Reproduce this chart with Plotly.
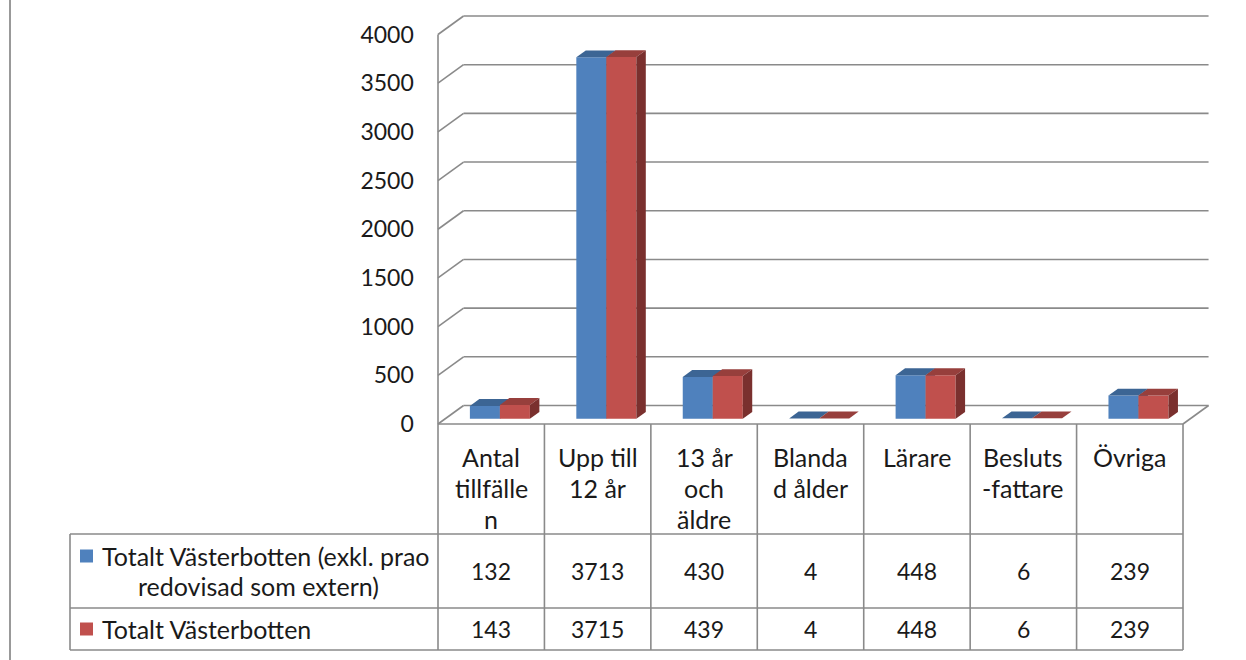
import plotly.graph_objects as go

# ---------------- data ----------------
categories = ["Antal<br>tillfälle<br>n", "Upp till<br>12 år", "13 år<br>och<br>äldre",
              "Blanda<br>d ålder", "Lärare", "Besluts<br>-fattare", "Övriga"]
series_names = ["Totalt Västerbotten (exkl. prao<br>redovisad som extern)", "Totalt Västerbotten"]
values_excl = [132, 3713, 430, 4, 448, 6, 239]
values_total = [143, 3715, 439, 4, 448, 6, 239]
y_ticks = [0, 500, 1000, 1500, 2000, 2500, 3000, 3500, 4000]

series_values = [values_excl, values_total]
front_colors = ["#4F81BD", "#C0504D"]
top_colors = ["#3C6594", "#973F3C"]
side_colors = ["#2F5079", "#7A302E"]

# ---------------- layout constants ----------------
W_FIG, H_FIG = 1246, 660
PX_LEFT = 438.0          # front-left edge of the plot (pixels)
PX_COL = 106.43          # width of a category on the front plane
PX_BOTTOM = 424.0        # pixel row of value 0 (front)
PX_PER_UNIT = 389.5 / 4000.0
YMAX = 4000
DX = 0.24                # depth offset, category units
DY = 190.0               # depth offset, value units
PADX = 0.03
PADY = 25.0
BAR_W = 0.282
D0X = 0.34               # depth position of bar front face (x shift)
D0Y = 0.28               # depth position of bar front face (y shift)
BD = 0.37                # bar depth
GRID = "#8A8A8A"
FONT = "Lato"
FS_NUM = 23
FS_TXT = 25

x_rng = [-0.5 - PADX, len(categories) - 0.5 + DX + PADX]
y_rng = [-PADY, YMAX + DY + PADY]


def xp(px):
    return px / W_FIG


def yp(py):
    return 1 - py / H_FIG


def cat_px(c):
    return PX_LEFT + (c + 0.5) * PX_COL


dom_x = [xp(cat_px(x_rng[0])), xp(cat_px(x_rng[1]))]
dom_y = [yp(PX_BOTTOM - y_rng[0] * PX_PER_UNIT), yp(PX_BOTTOM - y_rng[1] * PX_PER_UNIT)]

fig = go.Figure()

# ---------------- 3D bars ----------------
n = len(categories)
for i in range(n):
    for s in range(2):
        v = series_values[s][i]
        x0 = i + D0X * DX - BAR_W + s * BAR_W
        x1 = x0 + BAR_W
        yb = D0Y * DY
        yt = v + D0Y * DY
        ox, oy = BD * DX, BD * DY
        # front
        fig.add_trace(go.Scatter(x=[x0, x1, x1, x0, x0], y=[yb, yb, yt, yt, yb],
                                 fill="toself", fillcolor=front_colors[s], mode="lines",
                                 line=dict(width=0), hoverinfo="skip", showlegend=False))
        # top
        fig.add_trace(go.Scatter(x=[x0, x1, x1 + ox, x0 + ox, x0], y=[yt, yt, yt + oy, yt + oy, yt],
                                 fill="toself", fillcolor=top_colors[s], mode="lines",
                                 line=dict(width=0), hoverinfo="skip", showlegend=False))
        # side
        fig.add_trace(go.Scatter(x=[x1, x1 + ox, x1 + ox, x1, x1], y=[yb, yb + oy, yt + oy, yt, yb],
                                 fill="toself", fillcolor=side_colors[s], mode="lines",
                                 line=dict(width=0), hoverinfo="skip", showlegend=False))

shapes = []
L = -0.5
R = n - 0.5
gl = dict(color=GRID, width=1.6)
# gridlines: left wall diagonals + back wall horizontals
for v in y_ticks:
    shapes.append(dict(type="line", xref="x", yref="y", x0=L, y0=v, x1=L + DX, y1=v + DY,
                       line=gl, layer="below"))
    shapes.append(dict(type="line", xref="x", yref="y", x0=L + DX, y0=v + DY, x1=R + DX, y1=v + DY,
                       line=gl, layer="below"))
# floor right edge
shapes.append(dict(type="line", xref="x", yref="y", x0=R, y0=0, x1=R + DX, y1=DY,
                   line=gl, layer="below"))
# front vertical axis line
shapes.append(dict(type="line", xref="x", yref="y", x0=L, y0=0, x1=L, y1=YMAX,
                   line=gl, layer="below"))

# ---------------- data table ----------------
ROW_TOP = PX_BOTTOM
ROW1 = 534.0
ROW2 = 608.0
ROW3 = 650.0
TBL_LEFT = 70.0
tl = dict(color=GRID, width=1.6)
px_left = cat_px(L)
px_right = cat_px(R)
shapes.append(dict(type="line", xref="paper", yref="paper", x0=xp(px_left), x1=xp(px_right),
                   y0=yp(ROW_TOP), y1=yp(ROW_TOP), line=tl))
for y in [ROW1, ROW2, ROW3]:
    shapes.append(dict(type="line", xref="paper", yref="paper", x0=xp(TBL_LEFT), x1=xp(px_right),
                       y0=yp(y), y1=yp(y), line=tl))
for c in range(n + 1):
    xx = xp(cat_px(c - 0.5))
    shapes.append(dict(type="line", xref="paper", yref="paper", x0=xx, x1=xx,
                       y0=yp(ROW_TOP), y1=yp(ROW3), line=tl))
shapes.append(dict(type="line", xref="paper", yref="paper", x0=xp(TBL_LEFT), x1=xp(TBL_LEFT),
                   y0=yp(ROW1), y1=yp(ROW3), line=tl))
# page border line at left
shapes.append(dict(type="line", xref="paper", yref="paper", x0=xp(10), x1=xp(10),
                   y0=0, y1=1, line=dict(color="#999999", width=2)))

# legend keys
key_y = [556, 629]
for s in range(2):
    shapes.append(dict(type="rect", xref="paper", yref="paper", x0=xp(80), x1=xp(93),
                       y0=yp(key_y[s] + 6.5), y1=yp(key_y[s] - 6.5),
                       fillcolor=front_colors[s], line=dict(width=0)))

annotations = []
tf_num = dict(family=FONT, size=FS_NUM, color="#1a1a1a")
tf_txt = dict(family=FONT, size=FS_TXT, color="#1a1a1a")
# category header labels
for i, c in enumerate(categories):
    for k, line in enumerate(c.split("<br>")):
        annotations.append(dict(xref="paper", yref="paper", x=xp(cat_px(i)), y=yp(457 + 31 * k),
                                text=line, showarrow=False, font=tf_txt,
                                xanchor="center", yanchor="middle"))
# values
row_y = [571, 629]
for s in range(2):
    for i in range(n):
        annotations.append(dict(xref="paper", yref="paper", x=xp(cat_px(i)), y=yp(row_y[s]),
                                text=str(series_values[s][i]), showarrow=False, font=tf_num,
                                xanchor="center", yanchor="middle"))
# series names
name1 = series_names[0].split("<br>")
annotations.append(dict(xref="paper", yref="paper", x=xp(100), y=yp(556), text=name1[0],
                        showarrow=False, font=tf_txt, xanchor="left", yanchor="middle"))
annotations.append(dict(xref="paper", yref="paper", x=xp(258), y=yp(586), text=name1[1],
                        showarrow=False, font=tf_txt, xanchor="center", yanchor="middle"))
annotations.append(dict(xref="paper", yref="paper", x=xp(100), y=yp(629), text=series_names[1],
                        showarrow=False, font=tf_txt, xanchor="left", yanchor="middle"))

fig.update_layout(
    template="none",
    width=W_FIG, height=H_FIG,
    margin=dict(l=0, r=0, t=0, b=0, pad=0, autoexpand=False),
    paper_bgcolor="white", plot_bgcolor="white",
    showlegend=False,
    shapes=shapes,
    annotations=annotations,
    xaxis=dict(domain=dom_x, range=x_rng, visible=False, fixedrange=True, automargin=False),
    yaxis=dict(domain=dom_y, range=y_rng, tickvals=y_ticks, showgrid=False, zeroline=False,
               showline=False, ticks="", ticklabelstandoff=20, tickfont=tf_num, fixedrange=True,
               automargin=False),
)

fig.write_html("out.html", config={"displayModeBar": False},
               post_script="document.body.style.margin='0';")
